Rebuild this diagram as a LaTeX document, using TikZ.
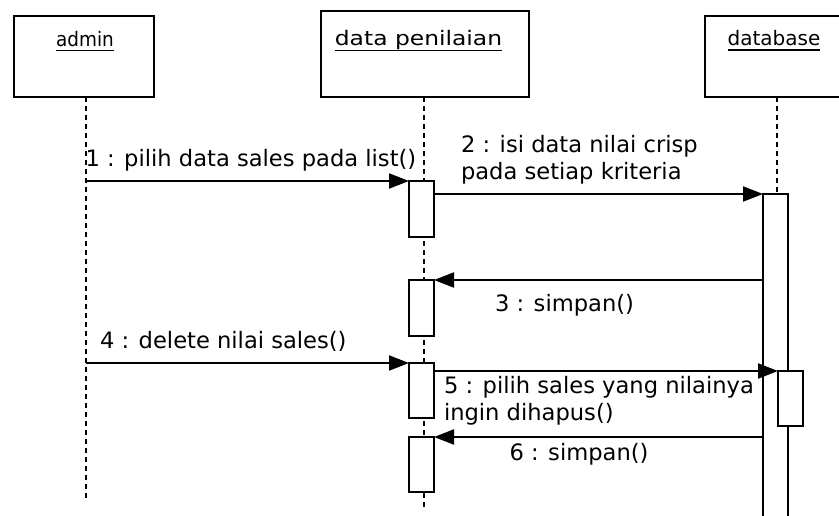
\documentclass[tikz,border=0pt]{standalone}
\usepackage{fontspec}
\usepackage{graphicx}
\setmainfont{DejaVu Sans}
\usetikzlibrary{arrows.meta}
\begin{document}
\begin{tikzpicture}[x=1pt,y=-1pt,
  every node/.style={inner sep=0pt, outer sep=0pt},
  obj/.style={draw, line width=2pt, fill=white},
  act/.style={draw, line width=1.7pt, fill=white, minimum width=25pt},
  life/.style={line width=2pt, dash pattern=on 5pt off 4pt},
  msg/.style={line width=2pt, -{Triangle[length=20pt,width=15pt]}},
  lbl/.style={anchor=base west, font=\fontsize{22.6}{27}\selectfont, align=left},
  ttl/.style={anchor=base, font=\fontsize{20}{24}\selectfont},
  ul/.style={line width=1.8pt}]
\useasboundingbox (0,0) rectangle (839,516);
\clip (0,0) rectangle (839,516);

% object boxes
\node[obj, minimum width=140pt, minimum height=81pt] (admin) at (84,56.5) {};
\node[obj, minimum width=208pt, minimum height=86pt] (dp) at (425,54) {};
\node[obj, minimum width=144pt, minimum height=81pt] (db) at (777,56.5) {};

% object names, underlined
\node[ttl] (tadmin) at (85,47) {\scalebox{0.92}[1]{admin}};
\node[ttl] (tdp) at (418.5,46) {\scalebox{1.17}[1]{data penilaian}};
\node[ttl] (tdb) at (774,46) {database};
\draw[ul] ([yshift=-3.5pt]tadmin.base west) -- ([yshift=-3.5pt]tadmin.base east);
\draw[ul] ([yshift=-4.5pt]tdp.base west) -- ([yshift=-4.5pt]tdp.base east);
\draw[ul] ([yshift=-4pt]tdb.base west) -- ([yshift=-4pt]tdb.base east);

% lifelines
\coordinate (adminEnd) at (86,499);
\coordinate (dpEnd) at (424,507);
\draw[life] (admin.south -| adminEnd) -- (adminEnd);
\draw[life] (dp.south -| dpEnd) -- (dpEnd);

% activation bars
\node[act, minimum height=56pt] (act1) at (421.5,209) {};
\node[act, minimum height=56pt] (act3) at (421.5,308) {};
\node[act, minimum height=55pt] (act4) at (421.5,390.5) {};
\node[act, minimum height=55pt] (act6) at (421.5,464.5) {};
\node[act, minimum height=336pt] (dbact) at (775.5,362) {};
\node[act, minimum height=55pt] (dbsub) at (790.5,398.5) {};
\draw[life] (db.south) -- (db.south |- dbact.north);

% messages
\coordinate (m1s) at (86,181);
\coordinate (m4s) at (86,363);
\draw[msg] (m1s) -- (act1.north west);
\draw[msg] (act1.east |- dbact.north) -- (dbact.north west);
\draw[msg] (dbact.west |- act3.north) -- (act3.north east);
\draw[msg] (m4s) -- (act4.north west);
\draw[msg] (act4.east |- dbsub.north) -- (dbsub.north west);
\draw[msg] (dbact.west |- act6.north) -- (act6.north east);

% message labels (base anchor sits on the last line of a two-line label)
\node[lbl] (l1) at (85.5,167) {1 : pilih data sales pada list()};
\node[lbl] (l2) at (461,180) {2 : isi data nilai crisp\\pada setiap kriteria};
\node[lbl] (l3) at (495,312) {3 : simpan()};
\node[lbl] (l4) at (100,348) {4 : delete nilai sales()};
\node[lbl] (l5) at (444,420) {5 : pilih sales yang nilainya\\ingin dihapus()};
\node[lbl] (l6) at (509.5,460) {6 : simpan()};
\end{tikzpicture}
\end{document}
